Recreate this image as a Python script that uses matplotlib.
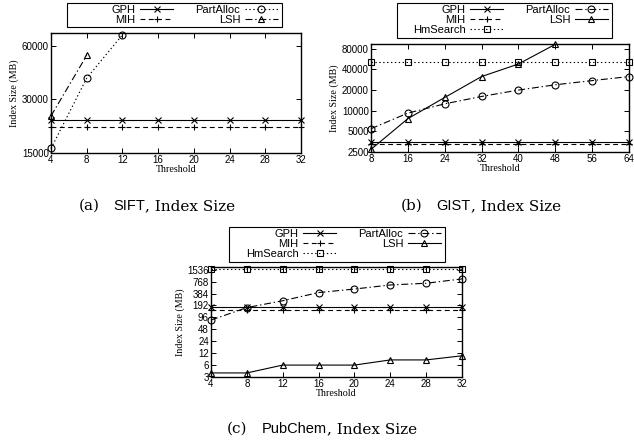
import matplotlib
matplotlib.use("Agg")
import matplotlib.pyplot as plt
from matplotlib.patches import Rectangle
from matplotlib.ticker import FixedLocator, FixedFormatter, NullLocator
from matplotlib.offsetbox import TextArea, HPacker, AnchoredOffsetbox

# ---------------- data ----------------
# (a) SIFT
sift_thr = [4, 8, 12, 16, 20, 24, 28, 32]
sift_gph = [23100, 23100, 23100, 23100, 23100, 23100, 23100, 23100]
sift_mih = [20900, 20900, 20900, 20900, 20900, 20900, 20900, 20900]
sift_partalloc_thr = [4, 8, 12]
sift_partalloc = [15900, 39400, 68800]
sift_lsh_thr = [4, 8]
sift_lsh = [24200, 52800]
sift_yticks = [15000, 30000, 60000]

# (b) GIST
gist_thr = [8, 16, 24, 32, 40, 48, 56, 64]
gist_gph = [3500, 3500, 3500, 3500, 3500, 3500, 3500, 3500]
gist_mih = [3230, 3230, 3230, 3230, 3230, 3230, 3230, 3230]
gist_hmsearch = [51000, 51000, 51000, 51000, 51000, 51000, 51000, 51000]
gist_partalloc = [5470, 9230, 12600, 16150, 20000, 23900, 27500, 31500]
gist_lsh_thr = [8, 16, 24, 32, 40, 48]
gist_lsh = [2730, 7660, 15600, 31500, 48000, 93000]
gist_yticks = [2500, 5000, 10000, 20000, 40000, 80000]

# (c) PubChem
pc_thr = [4, 8, 12, 16, 20, 24, 28, 32]
pc_gph = [177, 177, 177, 177, 177, 177, 177, 177]
pc_mih = [148, 148, 148, 148, 148, 148, 148, 148]
pc_hmsearch = [1560, 1560, 1560, 1560, 1560, 1560, 1560, 1560]
pc_partalloc = [82, 170, 253, 407, 500, 633, 700, 900]
pc_lsh = [3.8, 3.8, 6, 6, 6, 8.1, 8.1, 10.3]
pc_yticks = [3, 6, 12, 24, 48, 96, 192, 384, 768, 1536]

# ---------------- styling ----------------
plt.rcParams["lines.scale_dashes"] = False
SANS = "Liberation Sans"
SERIF = "Liberation Serif"
CAP_SERIF = "DejaVu Serif"

W, H = 634, 447
fig = plt.figure(figsize=(W / 100, H / 100), dpi=100)


def px_rect(l, t, r, b):
    return [l / W, 1 - b / H, (r - l) / W, (b - t) / H]


SOLID = "-"
DASHED = (0, (3.5, 2.5))
DOTTED = (0, (1, 1.8))
DASHDOT = (0, (5, 2, 1, 2))

MK = dict(color="black", lw=0.8, markersize=5.0, markerfacecolor="none",
          markeredgecolor="black", markeredgewidth=0.8, clip_on=False)


def setup_axes(ax, xticks, xlim, yticks, ylim):
    ax.set_yscale("log")
    ax.set_xlim(*xlim)
    ax.set_ylim(*ylim)
    ax.xaxis.set_major_locator(FixedLocator(xticks))
    ax.xaxis.set_major_formatter(FixedFormatter([str(v) for v in xticks]))
    ax.yaxis.set_major_locator(FixedLocator(yticks))
    ax.yaxis.set_major_formatter(FixedFormatter([str(v) for v in yticks]))
    ax.xaxis.set_minor_locator(NullLocator())
    ax.yaxis.set_minor_locator(NullLocator())
    ax.tick_params(direction="in", top=True, right=True, length=3.5,
                   width=0.7, labelsize=7, pad=1.5)
    for lab in ax.get_xticklabels() + ax.get_yticklabels():
        lab.set_fontfamily(SANS)
    for s in ax.spines.values():
        s.set_linewidth(1.0)
    ax.set_xlabel("Threshold", fontfamily=SERIF, fontsize=7.2, labelpad=0)
    ax.set_ylabel("Index Size (MB)", fontfamily=SERIF, fontsize=7.2, labelpad=2)


def add_legend(handles, labels, box):
    l, t, r, b = box
    fig.add_artist(Rectangle((l / W, 1 - b / H), (r - l) / W, (b - t) / H,
                             transform=fig.transFigure, fill=False,
                             lw=0.8, ec="black"))
    fig.legend(handles, labels, ncol=2, loc="upper right",
               bbox_to_anchor=((r - 4) / W, 1 - (t + 2) / H),
               bbox_transform=fig.transFigure, frameon=False,
               markerfirst=False, handlelength=3.0, handletextpad=0.4,
               columnspacing=2.0, labelspacing=0.0, borderpad=0,
               borderaxespad=0, prop={"family": SANS, "size": 8})


def add_caption(tag, name, x, y):
    serif = dict(fontfamily=CAP_SERIF, fontsize=11, color="black")
    sans = dict(fontfamily=SANS, fontsize=10.5, color="black")
    inner = HPacker(children=[TextArea(name, textprops=sans),
                              TextArea(", Index Size", textprops=serif)],
                    sep=0, pad=0, align="baseline")
    pack = HPacker(children=[TextArea(tag, textprops=serif), inner],
                   sep=10, pad=0, align="baseline")
    box = AnchoredOffsetbox(loc="center", child=pack, pad=0, borderpad=0,
                            bbox_to_anchor=(x / W, 1 - y / H),
                            bbox_transform=fig.transFigure, frameon=False)
    fig.add_artist(box)


# ---------------- (a) SIFT ----------------
ax_a = fig.add_axes(px_rect(51, 33, 301, 153))
l1, = ax_a.plot(sift_thr, sift_gph, linestyle=SOLID, marker="x", **MK)
l2, = ax_a.plot(sift_thr, sift_mih, linestyle=DASHED, marker="+", **MK)
l3, = ax_a.plot(sift_partalloc_thr, sift_partalloc, linestyle=DOTTED, marker="o", **MK)
l4, = ax_a.plot(sift_lsh_thr, sift_lsh, linestyle=DASHDOT, marker="^", **MK)
setup_axes(ax_a, sift_thr, (4, 32), sift_yticks, (15000, 70500))
add_legend([l1, l2, l3, l4], ["GPH", "MIH", "PartAlloc", "LSH"], (67, 3, 282, 27))
add_caption("(a)", "SIFT", 157, 206)

# ---------------- (b) GIST ----------------
ax_b = fig.add_axes(px_rect(371, 44, 629, 152))
g1, = ax_b.plot(gist_thr, gist_gph, linestyle=SOLID, marker="x", **MK)
g2, = ax_b.plot(gist_thr, gist_mih, linestyle=DASHED, marker="+", **MK)
g5, = ax_b.plot(gist_thr, gist_hmsearch, linestyle=DOTTED, marker="s", **MK)
g3, = ax_b.plot(gist_thr, gist_partalloc, linestyle=DASHDOT, marker="o", **MK)
g4, = ax_b.plot(gist_lsh_thr, gist_lsh, linestyle=SOLID, marker="^", **MK)
setup_axes(ax_b, gist_thr, (8, 64), gist_yticks, (2500, 94000))
add_legend([g1, g2, g5, g3, g4], ["GPH", "MIH", "HmSearch", "PartAlloc", "LSH"],
           (397, 3, 612, 38))
add_caption("(b)", "GIST", 481, 206)

# ---------------- (c) PubChem ----------------
ax_c = fig.add_axes(px_rect(211, 267, 462, 377))
p1, = ax_c.plot(pc_thr, pc_gph, linestyle=SOLID, marker="x", **MK)
p2, = ax_c.plot(pc_thr, pc_mih, linestyle=DASHED, marker="+", **MK)
p5, = ax_c.plot(pc_thr, pc_hmsearch, linestyle=DOTTED, marker="s", **MK)
p3, = ax_c.plot(pc_thr, pc_partalloc, linestyle=DASHDOT, marker="o", **MK)
p4, = ax_c.plot(pc_thr, pc_lsh, linestyle=SOLID, marker="^", **MK)
setup_axes(ax_c, pc_thr, (4, 32), pc_yticks, (3, 1800))
add_legend([p1, p2, p5, p3, p4], ["GPH", "MIH", "HmSearch", "PartAlloc", "LSH"],
           (229, 227, 445, 262))
add_caption("(c)", "PubChem", 322, 429)

fig.savefig("out.png", dpi=100)
